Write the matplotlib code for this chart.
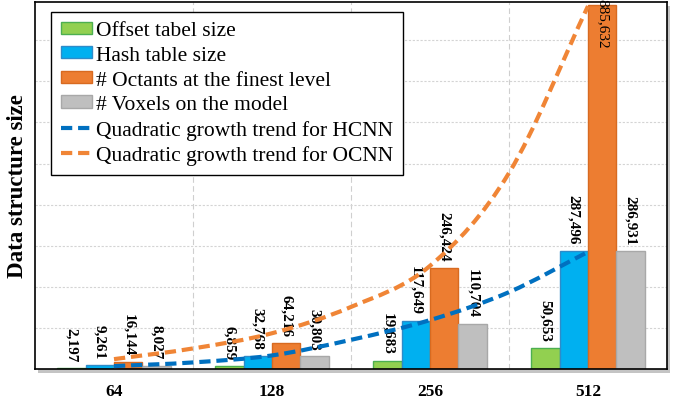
import numpy as np
import matplotlib
matplotlib.use("Agg")
import matplotlib.pyplot as plt
from matplotlib.path import Path
from matplotlib.patches import PathPatch, Rectangle
from matplotlib.lines import Line2D

plt.rcParams['font.family'] = ['Liberation Serif', 'DejaVu Serif']

# data
resolutions = ["64", "128", "256", "512"]
offset_size = [2197, 6859, 19683, 50653]
hash_size = [9261, 32768, 117649, 287496]
octants = [16144, 64216, 246424, 885632]
voxels = [8027, 30803, 110704, 286931]
series_names = ["Offset tabel size", "Hash table size",
                "# Octants at the finest level", "# Voxels on the model"]

# trend curves (at half-category steps)
trend_pos = [0, 0.5, 1, 1.5, 2, 2.5, 3]
trend_hcnn = [7000, 16000, 33000, 71000, 119000, 187000, 285000]
trend_ocnn = [24000, 50000, 87000, 151000, 251000, 477000, 883000]
trend_names = ["Quadratic growth trend for HCNN", "Quadratic growth trend for OCNN"]

face = ["#92D050", "#00B0F0", "#ED7D31", "#BFBFBF"]
edge = ["#4CAF50", "#2E8BC9", "#D86A20", "#A8A8A8"]
trend_cols = ["#0070C0", "#F08536"]
dash = (0, (2.7, 1.4))

fig = plt.figure(figsize=(6.83, 4.02), dpi=100)
ax = fig.add_axes([35/683, 32/402, 632/683, 367/402])

# shadow behind the plot area
fig.patches.append(Rectangle((38/683, 28/402), 632/683, 367/402, transform=fig.transFigure,
                             facecolor="#c4c4c4", edgecolor="none", zorder=-5))

x = np.arange(len(resolutions))
w = 0.18
offs = [-1.5*w, -0.5*w, 0.5*w, 1.5*w]
all_series = [offset_size, hash_size, octants, voxels]

for s, vals in enumerate(all_series):
    ax.bar(x + offs[s], vals, w, color=face[s], edgecolor=edge[s], linewidth=1,
           zorder=2, label=series_names[s])
    for i, v in enumerate(vals):
        if v > 800000:
            ax.annotate(f"{v:,}", (x[i] + offs[s], v), xytext=(0, 5), textcoords="offset points",
                        rotation=-90, ha="center", va="top", fontsize=11, zorder=3,
                        annotation_clip=False)
        else:
            ax.annotate(f"{v:,}", (x[i] + offs[s], v), xytext=(0, 5), textcoords="offset points",
                        rotation=-90, ha="center", va="bottom", fontsize=11,
                        fontweight="bold", zorder=3)


def smooth_path(xs, ys):
    # smoothed line through the points (cubic bezier segments)
    pts = np.column_stack([xs, ys]).astype(float)
    n = len(pts)
    tang = np.zeros_like(pts)
    tang[0] = pts[1] - pts[0]
    tang[-1] = pts[-1] - pts[-2]
    for i in range(1, n-1):
        tang[i] = (pts[i+1] - pts[i-1]) / 2
    verts = [pts[0]]
    codes = [Path.MOVETO]
    for i in range(n-1):
        verts += [pts[i] + tang[i]/3, pts[i+1] - tang[i+1]/3, pts[i+1]]
        codes += [Path.CURVE4]*3
    return Path(verts, codes)


for vals, col in zip([trend_hcnn, trend_ocnn], trend_cols):
    pp = PathPatch(smooth_path(trend_pos, vals), facecolor="none", edgecolor=col, linewidth=3.0,
                   linestyle=dash, zorder=4, capstyle="butt")
    ax.add_patch(pp)

ax.set_xlim(-0.5, 3.5)
ax.set_ylim(0, 893000)
ax.set_yticks(np.arange(100000, 800001, 100000))
ax.set_xticks(x)
ax.set_xticklabels(resolutions, fontweight="bold", fontsize=12.5)
ax.tick_params(axis="x", length=0, pad=10)
ax.tick_params(axis="y", length=0, labelleft=False)
ax.grid(axis="y", color="#d4d4d4", linestyle=(0, (2, 1.5)), linewidth=0.8, zorder=0)
for b in [0.5, 1.5, 2.5]:
    ax.axvline(b, color="#cfcfcf", linestyle=(0, (5, 3)), linewidth=0.8, zorder=0)
ax.set_axisbelow(True)
for sp in ax.spines.values():
    sp.set_color("black")
    sp.set_linewidth(1.2)
ax.set_ylabel("Data structure size", fontsize=16.5, fontweight="bold")
ax.yaxis.set_label_coords(-0.011, 0.5)

handles, labels = ax.get_legend_handles_labels()
for col, name in zip(trend_cols, trend_names):
    handles.append(Line2D([0], [0], color=col, linewidth=3.0, linestyle=dash))
    labels.append(name)
leg = ax.legend(handles, labels, loc="upper left", bbox_to_anchor=(51/683, 1 - 12.7/402),
                bbox_transform=fig.transFigure, fontsize=15.5, frameon=True, fancybox=False,
                edgecolor="black", framealpha=1, borderaxespad=0, handlelength=1.45,
                handleheight=0.5, handletextpad=0.2, labelspacing=0.26, borderpad=0.45)
leg.get_frame().set_linewidth(1.0)
leg.set_zorder(5)

plt.savefig("out.png", dpi=100)
plt.close()
